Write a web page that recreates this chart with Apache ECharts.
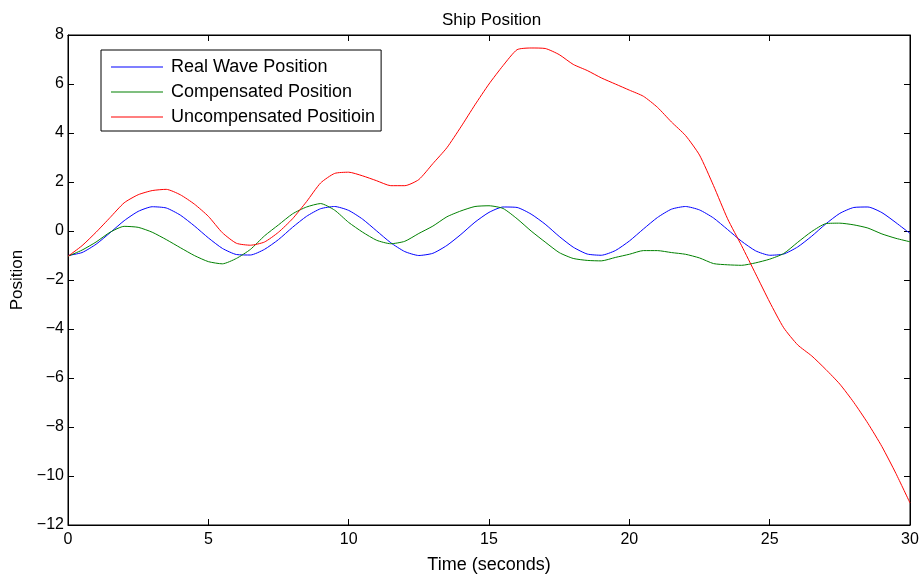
<!DOCTYPE html>
<html>
<head>
<meta charset="utf-8">
<script src="https://cdn.jsdelivr.net/npm/echarts@6/dist/echarts.min.js"></script>
<style>
  html, body { margin: 0; padding: 0; background: #fff; }
  #main { width: 922px; height: 579px; }
</style>
</head>
<body>
<div id="main"></div>
<script type="text/javascript">
// time axis, every 0.5 s from 0 to 30
var timeSec = [];
for (var i = 0; i <= 60; i++) { timeSec.push(i * 0.5); }

var realWave = [-1.0, -0.88, -0.54, -0.07, 0.42, 0.8, 0.99, 0.94, 0.65, 0.21,
  -0.28, -0.71, -0.96, -0.98, -0.75, -0.35, 0.15, 0.6, 0.91, 1.0,
  0.84, 0.48, 0.0, -0.48, -0.84, -1.0, -0.91, -0.59, -0.14, 0.36,
  0.76, 0.98, 0.96, 0.69, 0.28, -0.22, -0.66, -0.94, -0.99, -0.8,
  -0.41, 0.08, 0.55, 0.89, 1.0, 0.86, 0.53, 0.06, -0.42, -0.81,
  -0.99, -0.94, -0.65, -0.21, 0.29, 0.72, 0.96, 0.98, 0.75, 0.34, -0.1];

var compensated = [-1.03, -0.78, -0.45, -0.05, 0.19, 0.15, -0.05, -0.35, -0.68, -1.0,
  -1.25, -1.34, -1.12, -0.75, -0.2, 0.25, 0.7, 0.98, 1.12, 0.85,
  0.35, -0.05, -0.38, -0.52, -0.42, -0.1, 0.2, 0.58, 0.82, 1.0,
  1.03, 0.92, 0.5, 0.0, -0.45, -0.88, -1.12, -1.2, -1.22, -1.08,
  -0.95, -0.8, -0.8, -0.88, -0.95, -1.1, -1.33, -1.38, -1.4, -1.3,
  -1.15, -0.92, -0.46, -0.02, 0.3, 0.32, 0.25, 0.12, -0.12, -0.3, -0.44];

var uncompensated = [-1.03, -0.6, -0.05, 0.55, 1.15, 1.48, 1.65, 1.7, 1.48, 1.1,
  0.6, -0.07, -0.5, -0.58, -0.45, -0.05, 0.5, 1.2, 1.96, 2.35,
  2.4, 2.25, 2.05, 1.85, 1.85, 2.1, 2.75, 3.4, 4.25, 5.15,
  6.0, 6.75, 7.4, 7.47, 7.45, 7.2, 6.8, 6.55, 6.25, 6.0,
  5.75, 5.5, 5.05, 4.45, 3.9, 3.1, 1.85, 0.5, -0.6, -1.75,
  -2.9, -3.95, -4.65, -5.1, -5.65, -6.25, -7.0, -7.85, -8.8, -9.9, -11.1];

var seriesNames = ['Real Wave Position', 'Compensated Position', 'Uncompensated Positioin'];
var seriesColors = ['#0000ff', '#008000', '#ff0000'];

function pairs(vals) {
  return timeSec.map(function (t, k) { return [t, vals[k]]; });
}
function minus(v) { return String(v).replace('-', '\u2212'); }

var chart = echarts.init(document.getElementById('main'));
var font = 'Liberation Sans, Arial, sans-serif';

var tickInside = { show: true, inside: true, length: 6, lineStyle: { color: '#000' } };
var hideAxis = { show: false };

option = {
  animation: false,
  title: {
    text: 'Ship Position',
    left: 437,
    top: 7,
    textStyle: { fontFamily: font, fontSize: 17, fontWeight: 'normal', color: '#000' }
  },
  legend: {
    orient: 'vertical',
    left: 101,
    top: 50,
    padding: [8, 6, 5, 10],
    itemGap: 7,
    itemWidth: 52,
    itemHeight: 1,
    icon: 'rect',
    borderColor: '#000',
    borderWidth: 1,
    backgroundColor: '#fff',
    textStyle: { fontFamily: font, fontSize: 18, color: '#000', padding: [0, 0, 0, 3] },
    data: seriesNames
  },
  grid: {
    left: 68, right: 12, top: 35, bottom: 52,
    show: true, borderColor: '#000', borderWidth: 1
  },
  xAxis: [{
    type: 'value', min: 0, max: 30, interval: 5,
    name: 'Time (seconds)', nameLocation: 'middle', nameGap: 31,
    nameTextStyle: { fontFamily: font, fontSize: 18, color: '#000' },
    axisLine: { show: true, onZero: false, lineStyle: { color: '#000' } },
    axisTick: tickInside,
    axisLabel: { fontFamily: font, fontSize: 16, color: '#000', margin: 7 },
    splitLine: hideAxis
  }, {
    type: 'value', min: 0, max: 30, interval: 5, position: 'top',
    axisLine: { show: true, onZero: false, lineStyle: { color: '#000' } },
    axisTick: tickInside, axisLabel: hideAxis, splitLine: hideAxis
  }],
  yAxis: [{
    type: 'value', min: -12, max: 8, interval: 2,
    name: 'Position', nameLocation: 'middle', nameGap: 42, nameRotate: 90,
    nameTextStyle: { fontFamily: font, fontSize: 17, color: '#000' },
    axisLine: { show: true, onZero: false, lineStyle: { color: '#000' } },
    axisTick: tickInside,
    axisLabel: { fontFamily: font, fontSize: 16, color: '#000', margin: 4, formatter: minus },
    splitLine: hideAxis
  }, {
    type: 'value', min: -12, max: 8, interval: 2, position: 'right',
    axisLine: { show: true, onZero: false, lineStyle: { color: '#000' } },
    axisTick: tickInside, axisLabel: hideAxis, splitLine: hideAxis
  }],
  series: [
    { name: seriesNames[0], type: 'line', data: pairs(realWave) },
    { name: seriesNames[1], type: 'line', data: pairs(compensated) },
    { name: seriesNames[2], type: 'line', data: pairs(uncompensated) }
  ].map(function (s, k) {
    s.symbol = 'none';
    s.smooth = 0.2;
    s.color = seriesColors[k];
    s.lineStyle = { width: 1, color: seriesColors[k] };
    return s;
  })
};

chart.setOption(option);
</script>
</body>
</html>
